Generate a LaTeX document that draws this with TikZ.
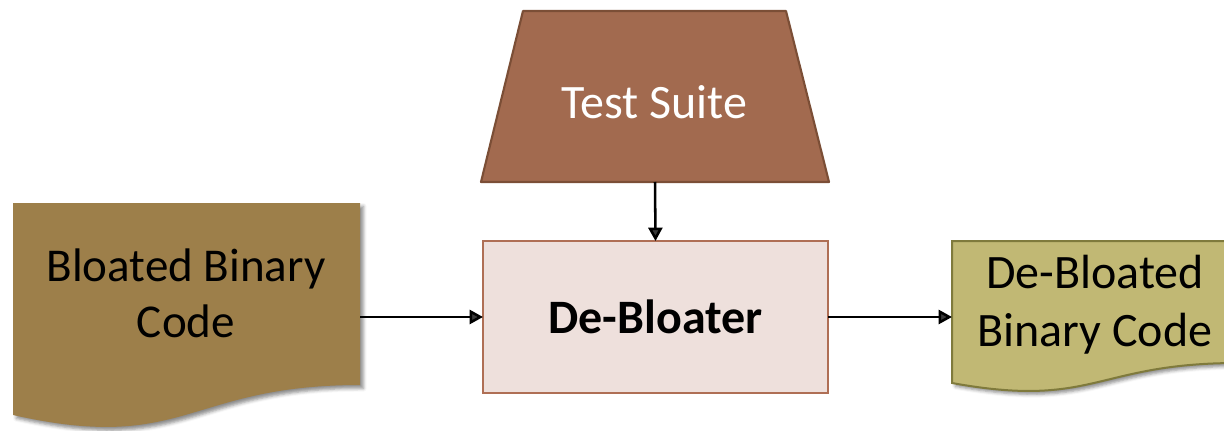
\documentclass[tikz,border=0pt]{standalone}
\usepackage{fontspec}
\setmainfont{Carlito}
\usetikzlibrary{arrows.meta,calc,shadows.blur}

\definecolor{suitefill}{HTML}{A26A4F}
\definecolor{suiteline}{HTML}{7B4E36}
\definecolor{boxfill}{HTML}{EEE0DC}
\definecolor{boxline}{HTML}{AF6F55}
\definecolor{bloatfill}{HTML}{9D7F4A}
\definecolor{leanfill}{HTML}{C1B874}
\definecolor{leanline}{HTML}{7F7A3C}

\begin{document}
\begin{tikzpicture}[x=0.75pt,y=-0.75pt,
  area/.style 2 args={minimum width=#1*0.75pt, minimum height=#2*0.75pt,
    inner sep=0pt, outer sep=0pt},
  bigtext/.style={font=\fontsize{36}{42.5}\selectfont},
  arr/.style={line width=1.9pt, -{Triangle[length=10pt,width=10.5pt]}},
  docshadow/.style={blur shadow={shadow xshift=2.5pt, shadow yshift=-2.5pt,
    shadow blur radius=2.5pt, shadow opacity=45}}]

\clip (0,0) rectangle (1224,431);

% Test suite (trapezoid)
\node[area={348}{171}] (suite) at (655,96.5) {};
\filldraw[fill=suitefill, draw=suiteline, line width=1.6pt, line join=round]
  ($(suite.north west)+(42,0)$) -- ($(suite.north east)+(-43,0)$)
  -- (suite.south east) -- (suite.south west) -- cycle;
\node[bigtext, text=white, anchor=base] (suite-text) at (654,119) {Test Suite};

% De-Bloater box
\node[area={345}{152}, fill=boxfill, draw=boxline, line width=1.8pt,
  bigtext] (deb) at (655.5,317) {\bfseries De-Bloater};

% Bloated binary code (document)
\node[area={347}{227}] (bloat) at (186.5,316.5) {};
\fill[bloatfill, docshadow]
  (bloat.north west) -- (bloat.north east) -- ($(bloat.north east)+(0,182)$)
  .. controls ($(bloat.north)+(0,182)$) and ($(bloat.north)+(0,251)$)
  .. ($(bloat.north west)+(0,212)$) -- cycle;
\node[font=\fontsize{35.3}{41.3}\selectfont, align=center, anchor=base]
  (bloat-text) at (186,337) {Bloated Binary\\Code};

% De-bloated binary code (document)
\node[area={286}{152}] (lean) at (1095,317) {};
\filldraw[fill=leanfill, draw=leanline, line width=1.5pt, docshadow]
  (lean.north west) -- (lean.north east) -- ($(lean.north east)+(0,122)$)
  .. controls ($(lean.north)+(0,122)$) and ($(lean.north)+(0,168)$)
  .. ($(lean.north west)+(0,142)$) -- cycle;
\node[font=\fontsize{36}{42.8}\selectfont, align=center, anchor=base]
  (lean-text) at (1095,346) {De-Bloated\\Binary Code};

% Connectors
\draw[arr] (suite.south) -- (deb.north);
\draw[arr] (bloat.east |- deb.west) -- (deb.west);
\draw[arr] (deb.east) -- (lean.west |- deb.east);
\end{tikzpicture}
\end{document}
